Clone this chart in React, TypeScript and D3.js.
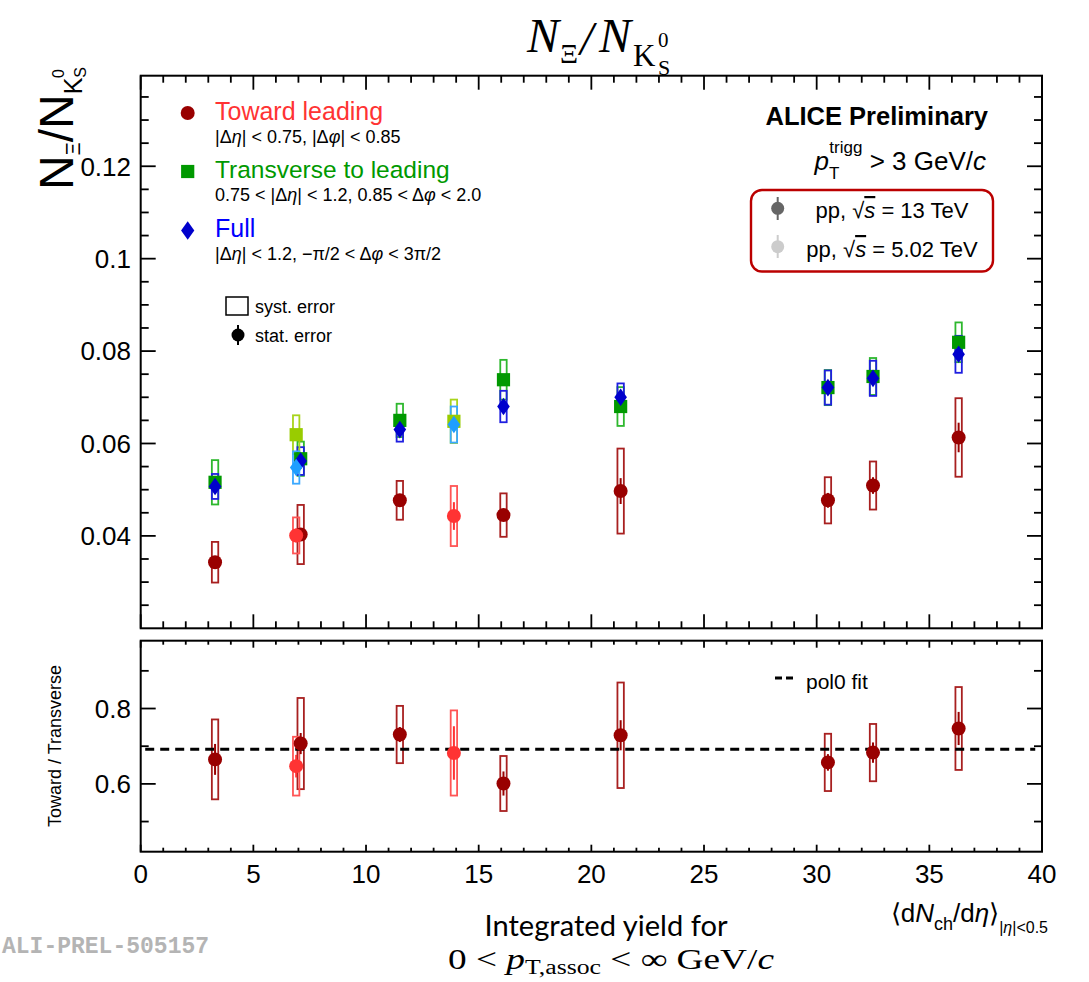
import React from "react";
import * as d3 from "d3";

// ---------- data ----------
// <dNch/deta> of the multiplicity classes
const dNdEta13 = [3.3, 7.1, 11.5, 16.1, 21.3, 30.5, 32.5, 36.3];
const dNdEta502 = [6.9, 13.9];

// N_Xi / N_K0S, pp 13 TeV
const toward13 = [0.0343, 0.0403, 0.0477, 0.0445, 0.0497, 0.0477, 0.0509, 0.0613];
const toward13Syst = [0.0044, 0.0064, 0.0042, 0.0047, 0.0092, 0.005, 0.0052, 0.0085];
const toward13Stat = [0.001, 0.0012, 0.0011, 0.0012, 0.0028, 0.0016, 0.0018, 0.0032];
const transverse13 = [0.0516, 0.0567, 0.065, 0.0738, 0.068, 0.0721, 0.0745, 0.0819];
const transverse13Syst = [0.0048, 0.0037, 0.0036, 0.0043, 0.0042, 0.0038, 0.004, 0.0043];
const transverse13Stat = [0.0008, 0.0009, 0.0009, 0.001, 0.0012, 0.0011, 0.0012, 0.0014];
const full13 = [0.0507, 0.0562, 0.063, 0.068, 0.07, 0.0721, 0.0741, 0.0793];
const full13Syst = [0.0027, 0.003, 0.0026, 0.0034, 0.003, 0.0037, 0.0038, 0.004];
const full13Stat = [0.0006, 0.0007, 0.0007, 0.0008, 0.0009, 0.0009, 0.001, 0.0011];

// N_Xi / N_K0S, pp 5.02 TeV
const toward502 = [0.0401, 0.0443];
const toward502Syst = [0.0039, 0.0065];
const toward502Stat = [0.0015, 0.003];
const transverse502 = [0.0619, 0.0648];
const transverse502Syst = [0.0042, 0.0047];
const transverse502Stat = [0.001, 0.0012];
const full502 = [0.0548, 0.0641];
const full502Syst = [0.0035, 0.0039];
const full502Stat = [0.0008, 0.001];

// Toward / Transverse ratio
const ratio13 = [0.665, 0.707, 0.731, 0.601, 0.729, 0.657, 0.683, 0.747];
const ratio13Syst = [0.106, 0.121, 0.076, 0.073, 0.14, 0.076, 0.076, 0.11];
const ratio13Stat = [0.041, 0.028, 0.02, 0.032, 0.04, 0.022, 0.027, 0.044];
const ratio502 = [0.647, 0.682];
const ratio502Syst = [0.078, 0.113];
const ratio502Stat = [0.03, 0.071];
const pol0Value = 0.692;

// axis ticks
const xMajorTicks = [0, 5, 10, 15, 20, 25, 30, 35, 40];
const xTickLabels = ["0", "5", "10", "15", "20", "25", "30", "35", "40"];
const yTopMajorTicks = [0.04, 0.06, 0.08, 0.1, 0.12];
const yTopTickLabels = ["0.04", "0.06", "0.08", "0.1", "0.12"];
const yBotMajorTicks = [0.6, 0.8];
const yBotTickLabels = ["0.6", "0.8"];

// ---------- layout ----------
const SANS = "'Liberation Sans', Arial, Helvetica, sans-serif";
const SERIF = "'Liberation Serif', 'DejaVu Serif', serif";

const frameLeft = 140.7;
const frameRight = 1042;
const topPad = { top: 75.7, bottom: 628.3 };
const botPad = { top: 640.7, bottom: 851.7 };

const x = d3.scaleLinear().domain([0, 40]).range([frameLeft, frameRight]);
const yTop = d3.scaleLinear().domain([0.02, 0.1396]).range([topPad.bottom, topPad.top]);
const yBot = d3.scaleLinear().domain([0.42, 0.98]).range([botPad.bottom, botPad.top]);

const xMinorTicks = d3.range(0, 40.001, 1).filter((v) => v % 5 !== 0);
const yTopMinorTicks = d3.range(0.025, 0.1396, 0.005).filter(
  (v) => !yTopMajorTicks.some((m) => Math.abs(m - v) < 1e-6)
);
const yBotMinorTicks = [0.5, 0.7, 0.9];

type Shape = "circle" | "square" | "diamond";

interface Series {
  xs: number[];
  ys: number[];
  syst: number[];
  stat: number[];
  color: string;
  boxColor: string;
  shape: Shape;
}

const COL = {
  red13: "#990000",
  red502: "#ff3333",
  green13: "#009900",
  green502: "#99cc00",
  blue13: "#0000cc",
  blue502: "#1e9eff",
};

const topSeries: Series[] = [
  { xs: dNdEta13, ys: transverse13, syst: transverse13Syst, stat: transverse13Stat, color: COL.green13, boxColor: "#2eb82e", shape: "square" },
  { xs: dNdEta13, ys: full13, syst: full13Syst, stat: full13Stat, color: COL.blue13, boxColor: "#1f1fe0", shape: "diamond" },
  { xs: dNdEta13, ys: toward13, syst: toward13Syst, stat: toward13Stat, color: COL.red13, boxColor: "#a82020", shape: "circle" },
  { xs: dNdEta502, ys: transverse502, syst: transverse502Syst, stat: transverse502Stat, color: COL.green502, boxColor: "#a8d41c", shape: "square" },
  { xs: dNdEta502, ys: full502, syst: full502Syst, stat: full502Stat, color: COL.blue502, boxColor: "#3aa8ff", shape: "diamond" },
  { xs: dNdEta502, ys: toward502, syst: toward502Syst, stat: toward502Stat, color: COL.red502, boxColor: "#ff5555", shape: "circle" },
];

const botSeries: Series[] = [
  { xs: dNdEta13, ys: ratio13, syst: ratio13Syst, stat: ratio13Stat, color: COL.red13, boxColor: "#a82020", shape: "circle" },
  { xs: dNdEta502, ys: ratio502, syst: ratio502Syst, stat: ratio502Stat, color: COL.red502, boxColor: "#ff5555", shape: "circle" },
];

function Marker({ cx, cy, shape, color, size = 1 }: { cx: number; cy: number; shape: Shape; color: string; size?: number }) {
  if (shape === "circle") return <circle cx={cx} cy={cy} r={7 * size} fill={color} />;
  if (shape === "square") {
    const h = 6.6 * size;
    return <rect x={cx - h} y={cy - h} width={2 * h} height={2 * h} fill={color} />;
  }
  const w = 6.3 * size;
  const h = 8.8 * size;
  return <polygon points={`${cx},${cy - h} ${cx + w},${cy} ${cx},${cy + h} ${cx - w},${cy}`} fill={color} />;
}

function SystBoxes({ s, y }: { s: Series; y: d3.ScaleLinear<number, number> }) {
  return (
    <g>
      {s.xs.map((xv, i) => {
        const y0 = y(s.ys[i] + s.syst[i]);
        const y1 = y(s.ys[i] - s.syst[i]);
        return (
          <rect key={i} x={x(xv) - 3.2} y={y0} width={6.4} height={y1 - y0} fill="none" stroke={s.boxColor} strokeWidth={1.8} />
        );
      })}
    </g>
  );
}

function Points({ s, y }: { s: Series; y: d3.ScaleLinear<number, number> }) {
  return (
    <g>
      {s.xs.map((xv, i) => (
        <g key={i}>
          <line x1={x(xv)} x2={x(xv)} y1={y(s.ys[i] + s.stat[i])} y2={y(s.ys[i] - s.stat[i])} stroke={s.color} strokeWidth={2} />
          <Marker cx={x(xv)} cy={y(s.ys[i])} shape={s.shape} color={s.color} />
        </g>
      ))}
    </g>
  );
}

function Frame({
  y, top, bottom, yMajor, yMinor, xMaj, xMin, yMaj, yMin,
}: {
  y: d3.ScaleLinear<number, number>; top: number; bottom: number; yMajor: number[]; yMinor: number[];
  xMaj: number; xMin: number; yMaj: number; yMin: number;
}) {
  const lines: React.ReactNode[] = [];
  xMajorTicks.forEach((v, i) => {
    lines.push(<line key={`xb${i}`} x1={x(v)} x2={x(v)} y1={bottom} y2={bottom - xMaj} />);
    lines.push(<line key={`xt${i}`} x1={x(v)} x2={x(v)} y1={top} y2={top + xMaj} />);
  });
  xMinorTicks.forEach((v, i) => {
    lines.push(<line key={`xbm${i}`} x1={x(v)} x2={x(v)} y1={bottom} y2={bottom - xMin} />);
    lines.push(<line key={`xtm${i}`} x1={x(v)} x2={x(v)} y1={top} y2={top + xMin} />);
  });
  yMajor.forEach((v, i) => {
    lines.push(<line key={`yl${i}`} x1={frameLeft} x2={frameLeft + yMaj} y1={y(v)} y2={y(v)} />);
    lines.push(<line key={`yr${i}`} x1={frameRight} x2={frameRight - yMaj} y1={y(v)} y2={y(v)} />);
  });
  yMinor.forEach((v, i) => {
    lines.push(<line key={`ylm${i}`} x1={frameLeft} x2={frameLeft + yMin} y1={y(v)} y2={y(v)} />);
    lines.push(<line key={`yrm${i}`} x1={frameRight} x2={frameRight - yMin} y1={y(v)} y2={y(v)} />);
  });
  return (
    <g stroke="#000" strokeWidth={1.8}>
      {lines}
      <rect x={frameLeft} y={top} width={frameRight - frameLeft} height={bottom - top} fill="none" strokeWidth={2} />
    </g>
  );
}

export default function App() {
  return (
    <svg
      width={1089}
      height={982}
      viewBox="0 0 1089 982"
      style={{ position: "absolute", left: 0, top: 0, display: "block" }}
    >
      <rect x={0} y={0} width={1089} height={982} fill="#fff" />

      {/* Title */}
      <g fontFamily={SERIF} fill="#000">
        <text x={527} y={52} fontSize={48} fontStyle="italic">N</text>
        <text x={560} y={63} fontSize={28}>Ξ</text>
        <text x={580} y={55} fontSize={48} fontStyle="italic">/</text>
        <text x={599} y={52} fontSize={48} fontStyle="italic">N</text>
        <text x={633} y={66} fontSize={31}>K</text>
        <text x={658} y={47} fontSize={21}>0</text>
        <text x={658} y={75} fontSize={22}>S</text>
      </g>

      {/* Frames and ticks */}
      <Frame y={yTop} top={topPad.top} bottom={topPad.bottom} yMajor={yTopMajorTicks} yMinor={yTopMinorTicks} xMaj={14} xMin={7} yMaj={15} yMin={8} />
      <Frame y={yBot} top={botPad.top} bottom={botPad.bottom} yMajor={yBotMajorTicks} yMinor={yBotMinorTicks} xMaj={7} xMin={4} yMaj={15} yMin={8} />

      {/* Tick labels */}
      <g fontFamily={SANS} fontSize={26} fill="#000">
        {yTopMajorTicks.map((v, i) => (
          <text key={`ytl${i}`} x={131} y={yTop(v) + 9.3} textAnchor="end">{yTopTickLabels[i]}</text>
        ))}
        {yBotMajorTicks.map((v, i) => (
          <text key={`ybl${i}`} x={131} y={yBot(v) + 9.3} textAnchor="end">{yBotTickLabels[i]}</text>
        ))}
        {xMajorTicks.map((v, i) => (
          <text key={`xl${i}`} x={x(v)} y={883} textAnchor="middle">{xTickLabels[i]}</text>
        ))}
      </g>

      {/* Y titles */}
      <g transform="translate(73,190) rotate(-90)" fontFamily={SANS} fill="#000">
        <text x={0} y={0} fontSize={48}>
          N<tspan fontSize={20} dy={7}>Ξ</tspan>
          <tspan fontSize={48} dy={-7}>/N</tspan>
          <tspan fontSize={25} dy={9}>K</tspan>
          <tspan fontSize={16} dy={4}>S</tspan>
          <tspan fontSize={16} dx={-11} dy={-22}>0</tspan>
        </text>
      </g>
      <g transform="translate(61,746) rotate(-90)" fontFamily={SANS} fill="#000">
        <text x={0} y={0} fontSize={18} textAnchor="middle">Toward / Transverse</text>
      </g>

      {/* X titles */}
      <g fontFamily={SANS} fill="#000">
        <text x={1048} y={922} fontSize={26} textAnchor="end">
          ⟨d<tspan fontStyle="italic">N</tspan>
          <tspan fontSize={18} dy={8}>ch</tspan>
          <tspan dy={-8}>/d</tspan>
          <tspan fontStyle="italic">η</tspan>
          <tspan>⟩</tspan>
          <tspan fontSize={16} dy={11}>|</tspan>
          <tspan fontSize={16} fontStyle="italic">η</tspan>
          <tspan fontSize={16}>|&lt;0.5</tspan>
        </text>
      </g>
      <text x={606} y={936} fontFamily="Lato, 'Open Sans', sans-serif" fontSize={28} textAnchor="middle" fill="#000" textLength={243} lengthAdjust="spacingAndGlyphs">
        Integrated yield for
      </text>
      <text x={611} y={969} fontFamily={SERIF} fontSize={29} textAnchor="middle" fill="#000" textLength={326} lengthAdjust="spacingAndGlyphs">
        0 &lt; <tspan fontStyle="italic">p</tspan>
        <tspan fontSize={20} dy={5}>T,assoc</tspan>
        <tspan dy={-5}> &lt; ∞ GeV/</tspan>
        <tspan fontStyle="italic">c</tspan>
      </text>
      <text x={2} y={953} fontFamily="'Liberation Mono', 'DejaVu Sans Mono', monospace" fontWeight="bold" fontSize={23} fill="#b4b4b4">
        ALI-PREL-505157
      </text>

      {/* Top panel data */}
      {topSeries.map((s, i) => (
        <SystBoxes key={`tb${i}`} s={s} y={yTop} />
      ))}
      {topSeries.map((s, i) => (
        <Points key={`tp${i}`} s={s} y={yTop} />
      ))}

      {/* Bottom panel data */}
      {botSeries.map((s, i) => (
        <SystBoxes key={`bb${i}`} s={s} y={yBot} />
      ))}
      <line
        x1={x(0.2)}
        x2={x(39.7)}
        y1={yBot(pol0Value)}
        y2={yBot(pol0Value)}
        stroke="#000"
        strokeWidth={3}
        strokeDasharray="9 6"
      />
      {botSeries.map((s, i) => (
        <Points key={`bp${i}`} s={s} y={yBot} />
      ))}

      {/* pol0 legend */}
      <line x1={775} x2={793} y1={678} y2={678} stroke="#000" strokeWidth={3} strokeDasharray="7 4" />
      <text x={806} y={689} fontFamily={SANS} fontSize={21} fill="#000">pol0 fit</text>

      {/* Left legend */}
      <g fontFamily={SANS}>
        <Marker cx={187.7} cy={113} shape="circle" color={COL.red13} />
        <text x={215} y={120} fontSize={25} fill="#ff3333">Toward leading</text>
        <text x={215} y={143} fontSize={18} fill="#000">
          |Δ<tspan fontStyle="italic">η</tspan>| &lt; 0.75, |Δ<tspan fontStyle="italic">φ</tspan>| &lt; 0.85
        </text>
        <Marker cx={187.7} cy={171.5} shape="square" color={COL.green13} />
        <text x={215} y={178} fontSize={24.5} fill="#009900">Transverse to leading</text>
        <text x={215} y={201} fontSize={18} fill="#000">
          0.75 &lt; |Δ<tspan fontStyle="italic">η</tspan>| &lt; 1.2, 0.85 &lt; Δ<tspan fontStyle="italic">φ</tspan> &lt; 2.0
        </text>
        <Marker cx={187.7} cy={230.5} shape="diamond" color={COL.blue13} size={1.05} />
        <text x={215} y={237} fontSize={25} fill="#0000ff">Full</text>
        <text x={215} y={260} fontSize={18} fill="#000">
          |Δ<tspan fontStyle="italic">η</tspan>| &lt; 1.2, −π/2 &lt; Δ<tspan fontStyle="italic">φ</tspan> &lt; 3π/2
        </text>

        <rect x={226} y={297} width={22} height={18} fill="none" stroke="#000" strokeWidth={1.5} />
        <text x={255} y={313} fontSize={18} fill="#000">syst. error</text>
        <line x1={238} x2={238} y1={325} y2={345} stroke="#000" strokeWidth={2} />
        <circle cx={238} cy={335} r={6.5} fill="#000" />
        <text x={255} y={342} fontSize={18} fill="#000">stat. error</text>
      </g>

      {/* Right legend */}
      <g fontFamily={SANS} fill="#000">
        <text x={988} y={125} fontSize={25.5} fontWeight="bold" textAnchor="end">ALICE Preliminary</text>
        <text x={986} y={170} fontSize={26} textAnchor="end">
          <tspan fontStyle="italic">p</tspan>
          <tspan fontSize={17} dy={9}>T</tspan>
          <tspan fontSize={17} dx={-10} dy={-26}>trigg</tspan>
          <tspan dy={17}> &gt; 3 GeV/</tspan>
          <tspan fontStyle="italic">c</tspan>
        </text>
        <rect x={751} y={190} width={242} height={81.5} rx={11} ry={11} fill="none" stroke="#bb0000" strokeWidth={2.4} />
        <line x1={777.7} x2={777.7} y1={197} y2={220} stroke="#666" strokeWidth={2} />
        <circle cx={777.7} cy={208.3} r={6.5} fill="#666" />
        <text x={892} y={218} fontSize={22} textAnchor="middle">
          pp, √<tspan fontStyle="italic" textDecoration="overline">s</tspan> = 13 TeV
        </text>
        <line x1={777.7} x2={777.7} y1={235} y2={258} stroke="#ccc" strokeWidth={2} />
        <circle cx={777.7} cy={246.7} r={6.5} fill="#ccc" />
        <text x={892} y={257} fontSize={22} textAnchor="middle">
          pp, √<tspan fontStyle="italic" textDecoration="overline">s</tspan> = 5.02 TeV
        </text>
      </g>
    </svg>
  );
}
